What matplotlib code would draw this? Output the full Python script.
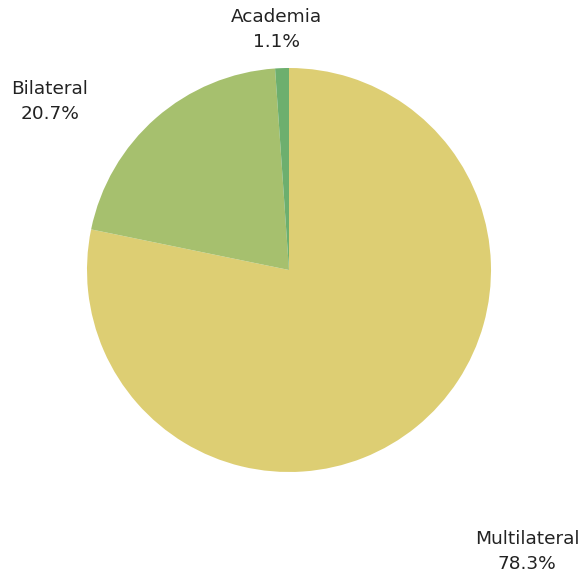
import matplotlib.pyplot as plt

labels = ['Multilateral', 'Bilateral', 'Academia']
shares = [78.3, 20.7, 1.1]
colors = ['#DDCE73', '#A6C06E', '#6DAF6E']

# label anchor positions (in units of pie radius)
label_pos = [(1.178, -1.394), (-1.183, 0.834), (-0.064, 1.19)]

W, H = 583, 575
cx, cy, r = 289, 270, 202

fig = plt.figure(figsize=(W / 100, H / 100), dpi=100)
ax = fig.add_axes([(cx - r) / W, (H - cy - r) / H, 2 * r / W, 2 * r / H])

ax.pie(shares, colors=colors, startangle=90, counterclock=False,
       radius=1, wedgeprops=dict(linewidth=0))
ax.set_xlim(-1, 1)
ax.set_ylim(-1, 1)
ax.set_aspect('auto')
ax.axis('off')

for lab, val, (x, y) in zip(labels, shares, label_pos):
    ax.text(x, y, f'{lab}\n{val}%', ha='center', va='center',
            multialignment='center', fontsize=13.3, color='#222222',
            linespacing=1.5, clip_on=False, family='DejaVu Sans')

fig.savefig('out.png', dpi=100)
